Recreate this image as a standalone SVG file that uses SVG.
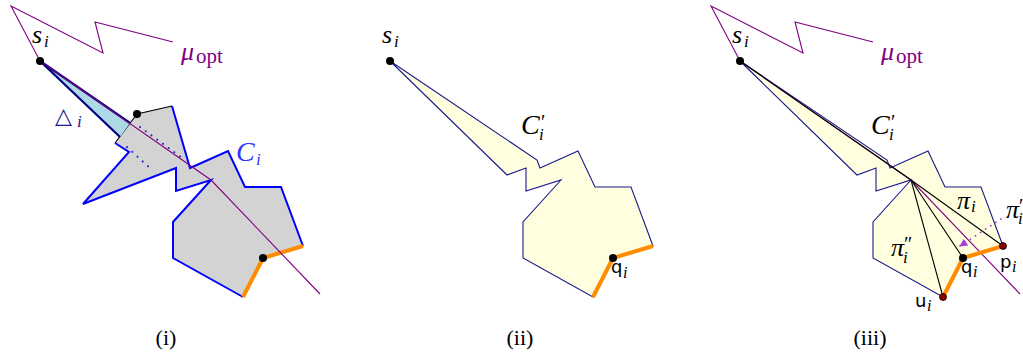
<svg xmlns="http://www.w3.org/2000/svg" width="1023" height="358" viewBox="0 0 1023 358">
<style>
.m{font-family:'Liberation Serif';font-style:italic;font-size:26px;fill:#000}
.sub{font-family:'Liberation Serif';font-style:italic;font-size:17px}
.pr{font-family:'Liberation Serif';font-style:normal;font-size:20px}
.rm{font-family:'Liberation Serif';font-style:normal;font-size:21px}
.sf{font-family:'DejaVu Sans';font-style:normal;font-size:18px;fill:#000}
.sfsub{font-family:'Liberation Serif';font-style:italic;font-size:16px}
.cap{font-family:'Liberation Serif';font-style:normal;font-size:22px;fill:#000}
.mu{fill:none;stroke:#800080;stroke-width:1.1}
.gray{fill:#d3d3d3;stroke:none}
.yel{fill:#ffffe0;stroke:#1a1a8c;stroke-width:1.1;stroke-linejoin:miter}
.blue{fill:none;stroke:#0000ff;stroke-width:2;stroke-linejoin:miter}
.blk{fill:none;stroke:#000;stroke-width:1.1}
.org{fill:none;stroke:#ff8c00;stroke-width:4;stroke-linejoin:round}
.dot{fill:#000}
.rdot{fill:#8b0000;stroke:#000;stroke-width:0.8}
.dotted{fill:none;stroke:#2020c0;stroke-width:2;stroke-linecap:round;stroke-dasharray:0.1 7}
</style>
<defs>
<marker id="ah" viewBox="0 0 10 10" refX="9" refY="5" markerWidth="8" markerHeight="8" orient="auto" markerUnits="userSpaceOnUse">
<path d="M0,0 L10,5 L0,10 z" fill="#a640d8"/>
</marker>
</defs>

<!-- Panel (i) -->
<g id="panel-i">
<g id="Ci">
<polygon class="gray" points="137,114 172,106 190,168 228,151 245,187 281,187 303,246 263,258 243,297 173,258 173,222 211,180 176,191 176,168 83,204 129,152 115,143"/>
<polyline class="blue" points="172,106 190,168 228,151 245,187 281,187 303,246"/>
<polyline class="blue" points="243,297 173,258 173,222 211,180 176,191 176,168 83,204 129,152 115,143"/>
<polyline class="blk" points="115,143 137,114 172,106"/>
<polyline class="org" points="303,246 263,258 243,297"/>
</g>
<g id="tri">
<polygon points="40,61 130,123 120,137" fill="#add8e6" stroke="none"/>
<polyline points="130,123 40,61 120,137" fill="none" stroke="#000080" stroke-width="2.2" stroke-linejoin="round"/>
</g>
<g id="dots-i">
<line class="dotted" x1="140" y1="127" x2="185" y2="160"/>
<line class="dotted" x1="127" y1="147" x2="152" y2="170"/>
</g>
<g id="mu-i">
<polyline class="mu" points="173,42 95,22 103,53 11,6 40,61 211,180 320,294"/>
</g>
<circle class="dot" cx="40" cy="61" r="4"/>
<circle class="dot" cx="137" cy="114" r="4"/>
<circle class="dot" cx="263" cy="258" r="4"/>
<text class="m" x="32" y="43">s<tspan class="sub" x="44" y="47">i</tspan></text>
<text class="m" x="181" y="60" style="fill:#800080">μ<tspan class="rm" x="196" y="63">opt</tspan></text>
<text x="55" y="123" style="font-family:'DejaVu Sans';font-size:22px;fill:#1a1a8c">△</text>
<text class="sub" x="77" y="127" style="fill:#1a1a8c">i</text>
<text class="m" x="236" y="161" style="fill:#3333ff;font-size:28px">C<tspan class="sub" x="256" y="165">i</tspan></text>
<text class="cap" x="166" y="345" text-anchor="middle">(i)</text>
</g>

<!-- Panel (ii) -->
<g id="panel-ii">
<g id="Cpi">
<polygon class="yel" points="390,61 537,160 540,168 578,151 595,187 631,187 653,246 613,258 593,297 523,258 523,222 561,180 526,191 526,168 507,175"/>
<polyline class="org" points="653,246 613,258 593,297"/>
</g>
<circle class="dot" cx="390" cy="61" r="4"/>
<circle class="dot" cx="613" cy="258" r="4"/>
<text class="m" x="382" y="43">s<tspan class="sub" x="394" y="47">i</tspan></text>
<text class="m" x="521" y="134" style="font-size:28px">C<tspan class="pr" x="541" y="129">′</tspan><tspan class="sub" x="539" y="140">i</tspan></text>
<text class="sf" x="611" y="273">q<tspan class="sfsub" x="623" y="278">i</tspan></text>
<text class="cap" x="520" y="345" text-anchor="middle">(ii)</text>
</g>

<!-- Panel (iii) -->
<g id="panel-iii">
<g id="Cpiii">
<polygon class="yel" points="740,61 887,160 890,168 928,151 945,187 981,187 1003,246 963,258 943,297 873,258 873,222 911,180 876,191 876,168 857,175"/>
</g>
<g id="connectors">
<polyline class="mu" points="873,42 795,22 803,53 711,6 740,61 911,180 1020,294"/>
<line class="blk" x1="740" y1="61" x2="911" y2="180"/>
<line class="blk" x1="911" y1="180" x2="1003" y2="246"/>
<line class="blk" x1="911" y1="180" x2="963" y2="258"/>
<line class="blk" x1="911" y1="180" x2="943" y2="297"/>
<line x1="1001" y1="219" x2="960" y2="246" stroke="#a640d8" stroke-width="1.8" stroke-linecap="round" stroke-dasharray="0.1 6" marker-end="url(#ah)"/>
<polyline class="org" points="1003,246 963,258 943,297"/>
</g>
<circle class="dot" cx="740" cy="61" r="4"/>
<circle class="dot" cx="963" cy="258" r="4"/>
<circle class="rdot" cx="1003" cy="246" r="3.5"/>
<circle class="rdot" cx="943" cy="297" r="3.5"/>
<text class="m" x="732" y="43">s<tspan class="sub" x="744" y="47">i</tspan></text>
<text class="m" x="881" y="60" style="fill:#800080">μ<tspan class="rm" x="896" y="63">opt</tspan></text>
<text class="m" x="871" y="134" style="font-size:28px">C<tspan class="pr" x="891" y="129">′</tspan><tspan class="sub" x="889" y="140">i</tspan></text>
<text class="m" x="957" y="209">π<tspan class="sub" x="971" y="212">i</tspan></text>
<text class="m" x="1006" y="218">π<tspan class="pr" x="1019" y="213">′</tspan><tspan class="sub" x="1018" y="224">i</tspan></text>
<text class="m" x="891" y="256">π<tspan class="pr" x="904" y="251">″</tspan><tspan class="sub" x="903" y="263">i</tspan></text>
<text class="sf" x="961" y="273">q<tspan class="sfsub" x="973" y="277">i</tspan></text>
<text class="sf" x="1000" y="268">p<tspan class="sfsub" x="1012" y="272">i</tspan></text>
<text class="sf" x="915" y="307">u<tspan class="sfsub" x="927" y="311">i</tspan></text>
<text class="cap" x="870" y="345" text-anchor="middle">(iii)</text>
</g>
</svg>
